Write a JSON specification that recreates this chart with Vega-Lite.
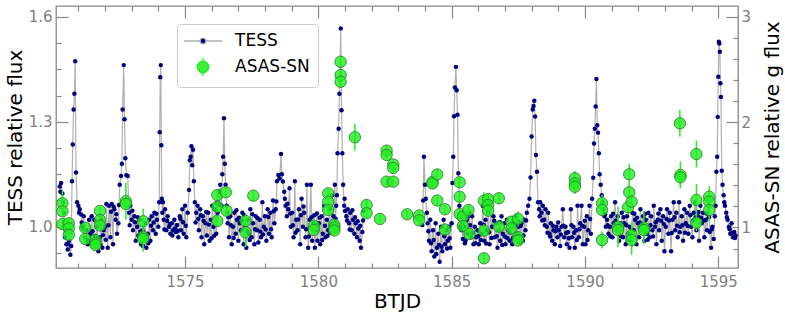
{
"$schema": "https://vega.github.io/schema/vega-lite/v6.json",
"width": 682, "height": 262,
"autosize": {"type": "none"},
"padding": {"left": 56, "top": 6, "right": 47, "bottom": 46},
"background": "white",
"config": {
 "font": "DejaVu Sans",
 "view": {"stroke": "#888888", "strokeWidth": 1.3},
 "axis": {"grid": false, "domain": false, "labelFont": "DejaVu Sans", "titleFont": "DejaVu Sans", "labelFontSize": 15, "titleFontSize": 20, "labelColor": "#808080", "tickColor": "#888888", "tickWidth": 1.2, "titleColor": "#000000", "titleFontWeight": "normal", "labelFlush": false, "labelOverlap": false}
},
"datasets": {
"tess": [
{"t":1570.30,"f":1.115,"g":1},{"t":1570.35,"f":1.125,"g":1},{"t":1570.40,"f":1.095,"g":1},{"t":1570.45,"f":1.04,"g":1},{"t":1570.50,"f":0.97,"g":1},{"t":1570.55,"f":0.95,"g":1},{"t":1570.60,"f":0.935,"g":1},{"t":1570.65,"f":0.96,"g":1},{"t":1570.70,"f":0.92,"g":1},{"t":1570.73,"f":0.945,"g":1},
{"t":1570.76,"f":1.13,"g":1},{"t":1570.79,"f":1.235,"g":1},{"t":1570.82,"f":1.335,"g":1},{"t":1570.85,"f":1.38,"g":1},{"t":1570.88,"f":1.473,"g":1},{"t":1570.91,"f":1.155,"g":1},{"t":1570.95,"f":1.07,"g":1},{"t":1571.00,"f":1.06,"g":1},{"t":1571.05,"f":1.05,"g":1},{"t":1571.10,"f":1.035,"g":1},
{"t":1571.15,"f":1.00,"g":1},{"t":1571.20,"f":1.03,"g":1},{"t":1571.25,"f":0.97,"g":1},{"t":1571.30,"f":0.99,"g":1},{"t":1571.35,"f":0.95,"g":1},{"t":1571.40,"f":1.02,"g":1},{"t":1571.45,"f":0.98,"g":1},{"t":1571.50,"f":1.03,"g":1},{"t":1571.55,"f":0.96,"g":1},{"t":1571.60,"f":1.02,"g":1},
{"t":1571.65,"f":0.95,"g":1},{"t":1571.70,"f":1.00,"g":1},{"t":1571.75,"f":0.93,"g":1},{"t":1571.80,"f":0.97,"g":1},{"t":1571.85,"f":1.02,"g":1},{"t":1571.90,"f":0.94,"g":1},{"t":1571.95,"f":0.99,"g":1},{"t":1572.00,"f":1.00,"g":1},{"t":1572.05,"f":1.065,"g":1},{"t":1572.10,"f":0.94,"g":1},
{"t":1572.15,"f":1.06,"g":1},{"t":1572.20,"f":0.97,"g":1},{"t":1572.25,"f":1.065,"g":1},{"t":1572.30,"f":0.95,"g":1},{"t":1572.35,"f":1.05,"g":1},{"t":1572.40,"f":1.02,"g":1},{"t":1572.45,"f":0.98,"g":1},{"t":1572.50,"f":1.01,"g":1},{"t":1572.55,"f":1.12,"g":1},{"t":1572.60,"f":1.145,"g":1},
{"t":1572.63,"f":1.18,"g":1},{"t":1572.66,"f":1.335,"g":1},{"t":1572.70,"f":1.462,"g":1},{"t":1572.73,"f":1.307,"g":1},{"t":1572.76,"f":1.196,"g":1},{"t":1572.80,"f":1.147,"g":1},{"t":1572.85,"f":1.145,"g":1},{"t":1572.90,"f":1.04,"g":1},{"t":1572.95,"f":1.06,"g":1},{"t":1573.00,"f":1.02,"g":1},
{"t":1573.05,"f":0.99,"g":1},{"t":1573.10,"f":1.03,"g":1},{"t":1573.15,"f":0.96,"g":1},{"t":1573.20,"f":1.00,"g":1},{"t":1573.25,"f":0.975,"g":1},{"t":1573.30,"f":1.02,"g":1},{"t":1573.35,"f":0.95,"g":1},{"t":1573.40,"f":0.99,"g":1},{"t":1573.45,"f":0.965,"g":1},{"t":1573.50,"f":1.01,"g":1},
{"t":1573.55,"f":0.94,"g":1},{"t":1573.60,"f":0.98,"g":1},{"t":1573.65,"f":1.02,"g":1},{"t":1573.70,"f":0.96,"g":1},{"t":1573.75,"f":1.03,"g":1},{"t":1573.80,"f":0.99,"g":1},{"t":1573.85,"f":1.04,"g":1},{"t":1573.90,"f":0.98,"g":1},{"t":1573.95,"f":1.02,"g":1},{"t":1574.00,"f":1.00,"g":1},
{"t":1574.03,"f":1.07,"g":1},{"t":1574.05,"f":1.27,"g":1},{"t":1574.07,"f":1.427,"g":1},{"t":1574.09,"f":1.462,"g":1},{"t":1574.11,"f":1.233,"g":1},{"t":1574.13,"f":1.08,"g":1},{"t":1574.17,"f":1.07,"g":1},{"t":1574.20,"f":1.02,"g":1},{"t":1574.25,"f":1.05,"g":1},{"t":1574.30,"f":0.99,"g":1},
{"t":1574.35,"f":1.03,"g":1},{"t":1574.40,"f":1.00,"g":1},{"t":1574.45,"f":0.98,"g":1},{"t":1574.50,"f":1.01,"g":1},{"t":1574.55,"f":0.99,"g":1},{"t":1574.60,"f":1.02,"g":1},{"t":1574.65,"f":0.985,"g":1},{"t":1574.70,"f":1.005,"g":1},{"t":1574.75,"f":0.97,"g":1},{"t":1574.80,"f":1.03,"g":1},
{"t":1574.85,"f":0.99,"g":1},{"t":1574.90,"f":1.05,"g":1},{"t":1574.95,"f":0.98,"g":1},{"t":1575.00,"f":1.06,"g":1},{"t":1575.05,"f":0.97,"g":1},{"t":1575.10,"f":1.04,"g":1},{"t":1575.15,"f":1.105,"g":1},{"t":1575.18,"f":1.19,"g":1},{"t":1575.21,"f":1.20,"g":1},{"t":1575.24,"f":1.23,"g":1},
{"t":1575.27,"f":1.176,"g":1},{"t":1575.30,"f":1.22,"g":1},{"t":1575.33,"f":1.13,"g":1},{"t":1575.37,"f":1.07,"g":1},{"t":1575.42,"f":1.04,"g":1},{"t":1575.47,"f":1.06,"g":1},{"t":1575.52,"f":0.99,"g":1},{"t":1575.57,"f":1.05,"g":1},{"t":1575.62,"f":0.97,"g":1},{"t":1575.67,"f":1.03,"g":1},
{"t":1575.72,"f":0.95,"g":1},{"t":1575.77,"f":1.01,"g":1},{"t":1575.82,"f":0.975,"g":1},{"t":1575.87,"f":1.04,"g":1},{"t":1575.92,"f":0.96,"g":1},{"t":1575.97,"f":1.02,"g":1},{"t":1576.02,"f":1.06,"g":1},{"t":1576.07,"f":1.00,"g":1},{"t":1576.12,"f":1.05,"g":1},{"t":1576.17,"f":0.98,"g":1},
{"t":1576.22,"f":1.04,"g":1},{"t":1576.27,"f":1.10,"g":1},{"t":1576.32,"f":1.12,"g":1},{"t":1576.37,"f":1.06,"g":1},{"t":1576.40,"f":1.15,"g":1},{"t":1576.43,"f":1.20,"g":1},{"t":1576.46,"f":1.31,"g":1},{"t":1576.49,"f":1.18,"g":1},{"t":1576.52,"f":1.12,"g":1},{"t":1576.56,"f":1.06,"g":1},
{"t":1576.60,"f":1.01,"g":1},{"t":1576.65,"f":0.97,"g":1},{"t":1576.70,"f":1.03,"g":1},{"t":1576.75,"f":0.95,"g":1},{"t":1576.80,"f":1.00,"g":1},{"t":1576.85,"f":1.04,"g":1},{"t":1576.90,"f":0.98,"g":1},{"t":1576.95,"f":1.02,"g":1},{"t":1577.00,"f":0.96,"g":1},{"t":1577.05,"f":1.01,"g":1},
{"t":1577.10,"f":0.99,"g":1},{"t":1577.15,"f":1.04,"g":1},{"t":1577.20,"f":0.95,"g":1},{"t":1577.25,"f":1.00,"g":1},{"t":1577.30,"f":0.94,"g":1},{"t":1577.35,"f":1.02,"g":1},{"t":1577.40,"f":0.98,"g":1},{"t":1577.45,"f":1.05,"g":1},{"t":1577.50,"f":0.97,"g":1},{"t":1577.55,"f":1.01,"g":1},
{"t":1577.60,"f":0.95,"g":1},{"t":1577.65,"f":1.03,"g":1},{"t":1577.70,"f":0.99,"g":1},{"t":1577.75,"f":0.955,"g":1},{"t":1577.80,"f":1.02,"g":1},{"t":1577.85,"f":0.97,"g":1},{"t":1577.90,"f":1.07,"g":1},{"t":1577.95,"f":1.00,"g":1},{"t":1578.00,"f":1.03,"g":1},{"t":1578.05,"f":0.96,"g":1},
{"t":1578.10,"f":1.05,"g":1},{"t":1578.15,"f":0.98,"g":1},{"t":1578.20,"f":1.04,"g":1},{"t":1578.25,"f":0.97,"g":1},{"t":1578.30,"f":1.075,"g":1},{"t":1578.35,"f":1.01,"g":1},{"t":1578.40,"f":1.05,"g":1},{"t":1578.45,"f":1.13,"g":1},{"t":1578.50,"f":1.148,"g":1},{"t":1578.55,"f":1.138,"g":1},
{"t":1578.60,"f":1.208,"g":1},{"t":1578.63,"f":1.15,"g":1},{"t":1578.67,"f":1.129,"g":1},{"t":1578.72,"f":1.10,"g":1},{"t":1578.77,"f":1.06,"g":1},{"t":1578.82,"f":1.03,"g":1},{"t":1578.87,"f":1.05,"g":1},{"t":1578.92,"f":1.11,"g":1},{"t":1578.97,"f":1.00,"g":1},{"t":1579.02,"f":1.04,"g":1},
{"t":1579.07,"f":0.97,"g":1},{"t":1579.12,"f":1.13,"g":1},{"t":1579.17,"f":1.02,"g":1},{"t":1579.22,"f":0.99,"g":1},{"t":1579.27,"f":1.05,"g":1},{"t":1579.32,"f":0.95,"g":1},{"t":1579.37,"f":1.08,"g":1},{"t":1579.42,"f":1.00,"g":1},{"t":1579.47,"f":1.04,"g":1},{"t":1579.52,"f":0.97,"g":1},
{"t":1579.57,"f":1.12,"g":1},{"t":1579.62,"f":0.94,"g":1},{"t":1579.67,"f":1.02,"g":1},{"t":1579.72,"f":1.12,"g":1},{"t":1579.77,"f":0.96,"g":1},{"t":1579.82,"f":1.01,"g":1},{"t":1579.87,"f":0.94,"g":1},{"t":1579.92,"f":0.99,"g":1},{"t":1579.97,"f":0.96,"g":1},{"t":1580.02,"f":1.01,"g":1},
{"t":1580.07,"f":0.95,"g":1},{"t":1580.12,"f":1.03,"g":1},{"t":1580.17,"f":0.98,"g":1},{"t":1580.22,"f":1.06,"g":1},{"t":1580.27,"f":0.97,"g":1},{"t":1580.32,"f":1.02,"g":1},{"t":1580.37,"f":0.99,"g":1},{"t":1580.42,"f":1.05,"g":1},{"t":1580.47,"f":1.00,"g":1},{"t":1580.52,"f":1.09,"g":1},
{"t":1580.57,"f":1.03,"g":1},{"t":1580.62,"f":1.12,"g":1},{"t":1580.67,"f":1.06,"g":1},{"t":1580.72,"f":1.21,"g":1},{"t":1580.76,"f":1.28,"g":1},{"t":1580.79,"f":1.38,"g":1},{"t":1580.84,"f":1.567,"g":1},{"t":1580.87,"f":1.333,"g":1},{"t":1580.90,"f":1.21,"g":1},{"t":1580.93,"f":1.12,"g":1},
{"t":1580.97,"f":1.06,"g":1},{"t":1581.00,"f":1.045,"g":1},{"t":1581.05,"f":1.03,"g":1},{"t":1581.10,"f":1.05,"g":1},{"t":1581.15,"f":1.01,"g":1},{"t":1581.20,"f":1.04,"g":1},{"t":1581.25,"f":0.99,"g":1},{"t":1581.30,"f":1.02,"g":1},{"t":1581.35,"f":0.98,"g":1},{"t":1581.40,"f":1.01,"g":1},
{"t":1581.45,"f":0.97,"g":1},{"t":1581.50,"f":0.995,"g":1},{"t":1581.55,"f":0.96,"g":1},{"t":1581.60,"f":0.94,"g":1},{"t":1581.65,"f":0.985,"g":1},{"t":1581.70,"f":1.045,"g":1},
{"t":1570.325,"f":1.10,"g":1},{"t":1570.425,"f":1.07,"g":1},{"t":1570.525,"f":0.99,"g":1},{"t":1570.625,"f":0.95,"g":1},
{"t":1571.025,"f":1.04,"g":1},{"t":1571.125,"f":1.012,"g":1},{"t":1571.225,"f":0.993,"g":1},{"t":1571.325,"f":0.962,"g":1},{"t":1571.425,"f":0.955,"g":1},{"t":1571.525,"f":0.987,"g":1},{"t":1571.625,"f":0.973,"g":1},{"t":1571.725,"f":0.955,"g":1},{"t":1571.825,"f":0.948,"g":1},{"t":1571.925,"f":0.976,"g":1},
{"t":1572.025,"f":0.963,"g":1},{"t":1572.125,"f":1.004,"g":1},{"t":1572.225,"f":1.043,"g":1},{"t":1572.325,"f":1.057,"g":1},{"t":1572.425,"f":1.036,"g":1},{"t":1572.525,"f":1.062,"g":1},
{"t":1572.925,"f":1.004,"g":1},{"t":1573.025,"f":1.046,"g":1},{"t":1573.125,"f":1.013,"g":1},{"t":1573.225,"f":1.027,"g":1},{"t":1573.325,"f":0.986,"g":1},{"t":1573.425,"f":0.945,"g":1},{"t":1573.525,"f":0.972,"g":1},{"t":1573.625,"f":0.953,"g":1},{"t":1573.725,"f":1.003,"g":1},{"t":1573.825,"f":1.012,"g":1},{"t":1573.925,"f":1.037,"g":1},
{"t":1574.15,"f":1.04,"g":1},{"t":1574.225,"f":0.992,"g":1},{"t":1574.325,"f":1.017,"g":1},{"t":1574.425,"f":1.008,"g":1},{"t":1574.525,"f":0.975,"g":1},{"t":1574.625,"f":0.995,"g":1},{"t":1574.725,"f":0.988,"g":1},{"t":1574.825,"f":1.022,"g":1},{"t":1574.925,"f":1.013,"g":1},{"t":1575.025,"f":1.003,"g":1},
{"t":1575.395,"f":1.012,"g":1},{"t":1575.495,"f":1.023,"g":1},{"t":1575.595,"f":1.033,"g":1},{"t":1575.695,"f":1.017,"g":1},{"t":1575.795,"f":1.042,"g":1},{"t":1575.895,"f":1.006,"g":1},{"t":1575.995,"f":0.967,"g":1},{"t":1576.095,"f":0.974,"g":1},{"t":1576.195,"f":1.068,"g":1},{"t":1576.295,"f":1.063,"g":1},
{"t":1576.58,"f":1.04,"g":1},{"t":1576.625,"f":1.027,"g":1},{"t":1576.725,"f":1.004,"g":1},{"t":1576.825,"f":0.968,"g":1},{"t":1576.925,"f":1.047,"g":1},{"t":1577.025,"f":1.026,"g":1},{"t":1577.125,"f":1.018,"g":1},{"t":1577.225,"f":1.033,"g":1},{"t":1577.325,"f":0.987,"g":1},{"t":1577.425,"f":0.962,"g":1},
{"t":1577.525,"f":1.036,"g":1},{"t":1577.625,"f":0.993,"g":1},{"t":1577.725,"f":1.024,"g":1},{"t":1577.825,"f":0.986,"g":1},{"t":1577.925,"f":0.978,"g":1},{"t":1578.025,"f":0.992,"g":1},{"t":1578.125,"f":1.028,"g":1},{"t":1578.225,"f":0.993,"g":1},{"t":1578.325,"f":1.044,"g":1},{"t":1578.425,"f":1.072,"g":1},
{"t":1578.745,"f":1.08,"g":1},{"t":1578.845,"f":1.066,"g":1},{"t":1578.945,"f":1.038,"g":1},{"t":1579.045,"f":1.004,"g":1},{"t":1579.145,"f":0.983,"g":1},{"t":1579.245,"f":1.021,"g":1},{"t":1579.345,"f":1.033,"g":1},{"t":1579.445,"f":1.058,"g":1},{"t":1579.545,"f":0.993,"g":1},{"t":1579.645,"f":0.972,"g":1},
{"t":1579.745,"f":1.027,"g":1},{"t":1579.845,"f":1.033,"g":1},{"t":1579.945,"f":1.038,"g":1},{"t":1580.045,"f":1.026,"g":1},{"t":1580.145,"f":0.962,"g":1},{"t":1580.245,"f":1.003,"g":1},{"t":1580.345,"f":0.974,"g":1},{"t":1580.445,"f":0.983,"g":1},{"t":1580.545,"f":1.004,"g":1},{"t":1580.645,"f":1.023,"g":1},{"t":1580.695,"f":1.09,"g":1},
{"t":1580.985,"f":1.08,"g":1},{"t":1581.075,"f":1.018,"g":1},{"t":1581.175,"f":0.992,"g":1},{"t":1581.275,"f":1.047,"g":1},{"t":1581.375,"f":1.027,"g":1},{"t":1581.475,"f":1.016,"g":1},{"t":1581.575,"f":1.003,"g":1},{"t":1581.675,"f":1.018,"g":1},
{"t":1583.90,"f":1.005,"g":2},{"t":1583.93,"f":1.075,"g":2},{"t":1583.96,"f":1.20,"g":2},{"t":1584.00,"f":1.12,"g":2},{"t":1584.03,"f":1.08,"g":2},{"t":1584.07,"f":1.04,"g":2},{"t":1584.10,"f":1.01,"g":2},{"t":1584.15,"f":0.96,"g":2},{"t":1584.20,"f":1.02,"g":2},{"t":1584.25,"f":0.93,"g":2},
{"t":1584.30,"f":0.99,"g":2},{"t":1584.35,"f":0.915,"g":2},{"t":1584.40,"f":1.01,"g":2},{"t":1584.45,"f":0.94,"g":2},{"t":1584.50,"f":0.98,"g":2},{"t":1584.55,"f":0.90,"g":2},{"t":1584.60,"f":1.00,"g":2},{"t":1584.65,"f":0.93,"g":2},{"t":1584.70,"f":1.02,"g":2},{"t":1584.75,"f":0.95,"g":2},
{"t":1584.80,"f":0.99,"g":2},{"t":1584.85,"f":0.96,"g":2},{"t":1584.90,"f":1.00,"g":2},{"t":1584.95,"f":0.94,"g":2},{"t":1585.00,"f":1.01,"g":2},{"t":1585.03,"f":1.125,"g":2},{"t":1585.06,"f":1.20,"g":2},{"t":1585.09,"f":1.316,"g":2},{"t":1585.12,"f":1.398,"g":2},{"t":1585.16,"f":1.457,"g":2},
{"t":1585.19,"f":1.39,"g":2},{"t":1585.22,"f":1.32,"g":2},{"t":1585.25,"f":1.153,"g":2},{"t":1585.29,"f":1.06,"g":2},{"t":1585.33,"f":1.03,"g":2},{"t":1585.37,"f":0.99,"g":2},{"t":1585.42,"f":0.965,"g":2},{"t":1585.47,"f":1.00,"g":2},{"t":1585.52,"f":0.96,"g":2},{"t":1585.57,"f":1.02,"g":2},
{"t":1585.62,"f":0.98,"g":2},{"t":1585.67,"f":1.04,"g":2},{"t":1585.72,"f":0.97,"g":2},{"t":1585.77,"f":1.03,"g":2},{"t":1585.82,"f":0.95,"g":2},{"t":1585.87,"f":1.00,"g":2},{"t":1585.92,"f":0.97,"g":2},{"t":1585.97,"f":0.99,"g":2},{"t":1586.02,"f":0.95,"g":2},{"t":1586.07,"f":1.01,"g":2},
{"t":1586.12,"f":0.98,"g":2},{"t":1586.17,"f":1.06,"g":2},{"t":1586.22,"f":0.96,"g":2},{"t":1586.27,"f":1.02,"g":2},{"t":1586.32,"f":0.99,"g":2},{"t":1586.37,"f":1.04,"g":2},{"t":1586.42,"f":0.95,"g":2},{"t":1586.47,"f":1.07,"g":2},{"t":1586.52,"f":1.00,"g":2},{"t":1586.57,"f":1.03,"g":2},
{"t":1586.62,"f":0.97,"g":2},{"t":1586.67,"f":1.01,"g":2},{"t":1586.72,"f":0.94,"g":2},{"t":1586.77,"f":0.99,"g":2},{"t":1586.82,"f":0.96,"g":2},{"t":1586.87,"f":1.03,"g":2},{"t":1586.92,"f":0.98,"g":2},{"t":1586.97,"f":1.01,"g":2},{"t":1587.02,"f":0.95,"g":2},{"t":1587.07,"f":1.02,"g":2},
{"t":1587.12,"f":0.99,"g":2},{"t":1587.17,"f":0.96,"g":2},{"t":1587.22,"f":1.00,"g":2},{"t":1587.27,"f":0.95,"g":2},{"t":1587.32,"f":1.01,"g":2},{"t":1587.37,"f":0.97,"g":2},{"t":1587.42,"f":1.03,"g":2},{"t":1587.47,"f":0.98,"g":2},{"t":1587.52,"f":1.00,"g":2},{"t":1587.57,"f":0.955,"g":2},
{"t":1587.62,"f":1.01,"g":2},{"t":1587.67,"f":0.96,"g":2},{"t":1587.72,"f":1.02,"g":2},{"t":1587.77,"f":0.99,"g":2},{"t":1587.82,"f":1.04,"g":2},{"t":1587.87,"f":1.06,"g":2},{"t":1587.92,"f":1.08,"g":2},{"t":1587.96,"f":1.141,"g":2},{"t":1588.00,"f":1.258,"g":2},{"t":1588.04,"f":1.335,"g":2},
{"t":1588.07,"f":1.345,"g":2},{"t":1588.10,"f":1.36,"g":2},{"t":1588.13,"f":1.315,"g":2},{"t":1588.16,"f":1.205,"g":2},{"t":1588.20,"f":1.157,"g":2},{"t":1588.24,"f":1.07,"g":2},{"t":1588.28,"f":1.05,"g":2},{"t":1588.32,"f":1.07,"g":2},{"t":1588.37,"f":1.04,"g":2},{"t":1588.42,"f":1.06,"g":2},
{"t":1588.47,"f":1.02,"g":2},{"t":1588.52,"f":1.05,"g":2},{"t":1588.57,"f":1.00,"g":2},{"t":1588.62,"f":1.04,"g":2},{"t":1588.67,"f":0.98,"g":2},{"t":1588.72,"f":1.01,"g":2},{"t":1588.77,"f":0.96,"g":2},{"t":1588.82,"f":0.99,"g":2},{"t":1588.87,"f":0.95,"g":2},{"t":1588.92,"f":1.00,"g":2},
{"t":1588.97,"f":0.97,"g":2},{"t":1589.02,"f":0.99,"g":2},{"t":1589.07,"f":0.945,"g":2},{"t":1589.12,"f":1.00,"g":2},{"t":1589.17,"f":1.05,"g":2},{"t":1589.22,"f":0.97,"g":2},{"t":1589.27,"f":1.00,"g":2},{"t":1589.32,"f":0.95,"g":2},{"t":1589.37,"f":0.985,"g":2},{"t":1589.42,"f":0.94,"g":2},
{"t":1589.47,"f":1.05,"g":2},{"t":1589.52,"f":0.97,"g":2},{"t":1589.57,"f":1.00,"g":2},{"t":1589.62,"f":0.94,"g":2},{"t":1589.67,"f":0.99,"g":2},{"t":1589.72,"f":1.06,"g":2},{"t":1589.77,"f":0.97,"g":2},{"t":1589.82,"f":1.01,"g":2},{"t":1589.87,"f":1.06,"g":2},{"t":1589.92,"f":0.95,"g":2},
{"t":1589.97,"f":1.00,"g":2},{"t":1590.02,"f":0.95,"g":2},{"t":1590.07,"f":1.03,"g":2},{"t":1590.12,"f":0.99,"g":2},{"t":1590.17,"f":1.06,"g":2},{"t":1590.22,"f":0.98,"g":2},{"t":1590.27,"f":1.08,"g":2},{"t":1590.31,"f":1.14,"g":2},{"t":1590.34,"f":1.238,"g":2},{"t":1590.37,"f":1.28,"g":2},
{"t":1590.40,"f":1.344,"g":2},{"t":1590.43,"f":1.422,"g":2},{"t":1590.46,"f":1.29,"g":2},{"t":1590.49,"f":1.269,"g":2},{"t":1590.52,"f":1.21,"g":2},{"t":1590.55,"f":1.15,"g":2},{"t":1590.59,"f":1.12,"g":2},{"t":1590.63,"f":1.09,"g":2},{"t":1590.68,"f":1.05,"g":2},{"t":1590.73,"f":1.03,"g":2},
{"t":1590.78,"f":1.00,"g":2},{"t":1590.83,"f":1.02,"g":2},{"t":1590.88,"f":0.98,"g":2},{"t":1590.93,"f":1.00,"g":2},{"t":1590.98,"f":1.03,"g":2},{"t":1591.03,"f":0.97,"g":2},{"t":1591.08,"f":1.01,"g":2},{"t":1591.13,"f":1.07,"g":2},{"t":1591.18,"f":0.99,"g":2},{"t":1591.23,"f":1.03,"g":2},
{"t":1591.28,"f":0.96,"g":2},{"t":1591.33,"f":1.01,"g":2},{"t":1591.38,"f":1.04,"g":2},{"t":1591.43,"f":0.97,"g":2},{"t":1591.48,"f":1.01,"g":2},{"t":1591.53,"f":0.95,"g":2},{"t":1591.58,"f":1.03,"g":2},{"t":1591.63,"f":0.98,"g":2},{"t":1591.68,"f":1.00,"g":2},{"t":1591.73,"f":0.96,"g":2},
{"t":1591.78,"f":1.04,"g":2},{"t":1591.83,"f":0.99,"g":2},{"t":1591.88,"f":1.02,"g":2},{"t":1591.93,"f":0.95,"g":2},{"t":1591.98,"f":1.01,"g":2},{"t":1592.03,"f":0.97,"g":2},{"t":1592.08,"f":1.05,"g":2},{"t":1592.13,"f":0.99,"g":2},{"t":1592.18,"f":1.03,"g":2},{"t":1592.23,"f":0.96,"g":2},
{"t":1592.28,"f":1.02,"g":2},{"t":1592.33,"f":0.98,"g":2},{"t":1592.38,"f":1.04,"g":2},{"t":1592.43,"f":0.97,"g":2},{"t":1592.48,"f":1.03,"g":2},{"t":1592.53,"f":0.99,"g":2},{"t":1592.58,"f":1.06,"g":2},{"t":1592.63,"f":1.00,"g":2},{"t":1592.68,"f":0.95,"g":2},{"t":1592.73,"f":1.02,"g":2},
{"t":1592.78,"f":0.99,"g":2},{"t":1592.83,"f":1.05,"g":2},{"t":1592.88,"f":0.96,"g":2},{"t":1592.93,"f":1.03,"g":2},{"t":1592.98,"f":0.93,"g":2},{"t":1593.03,"f":1.00,"g":2},{"t":1593.08,"f":1.05,"g":2},{"t":1593.13,"f":0.98,"g":2},{"t":1593.18,"f":1.04,"g":2},{"t":1593.23,"f":0.93,"g":2},
{"t":1593.28,"f":1.02,"g":2},{"t":1593.33,"f":1.07,"g":2},{"t":1593.38,"f":0.99,"g":2},{"t":1593.43,"f":1.04,"g":2},{"t":1593.48,"f":0.97,"g":2},{"t":1593.53,"f":1.07,"g":2},{"t":1593.58,"f":1.00,"g":2},{"t":1593.63,"f":1.03,"g":2},{"t":1593.68,"f":0.96,"g":2},{"t":1593.73,"f":1.05,"g":2},
{"t":1593.78,"f":1.01,"g":2},{"t":1593.83,"f":1.04,"g":2},{"t":1593.88,"f":0.98,"g":2},{"t":1593.93,"f":1.06,"g":2},{"t":1593.98,"f":1.00,"g":2},{"t":1594.03,"f":0.97,"g":2},{"t":1594.08,"f":1.04,"g":2},{"t":1594.13,"f":1.07,"g":2},{"t":1594.18,"f":0.99,"g":2},{"t":1594.23,"f":1.03,"g":2},
{"t":1594.28,"f":0.96,"g":2},{"t":1594.33,"f":1.06,"g":2},{"t":1594.38,"f":1.01,"g":2},{"t":1594.43,"f":1.04,"g":2},{"t":1594.48,"f":0.97,"g":2},{"t":1594.53,"f":1.02,"g":2},{"t":1594.58,"f":0.99,"g":2},{"t":1594.63,"f":1.075,"g":2},{"t":1594.68,"f":0.985,"g":2},{"t":1594.73,"f":0.94,"g":2},
{"t":1594.78,"f":1.00,"g":2},{"t":1594.83,"f":0.965,"g":2},{"t":1594.87,"f":1.03,"g":2},{"t":1594.90,"f":1.06,"g":2},{"t":1594.93,"f":1.157,"g":2},{"t":1594.96,"f":1.20,"g":2},{"t":1594.98,"f":1.314,"g":2},{"t":1595.00,"f":1.429,"g":2},{"t":1595.02,"f":1.529,"g":2},{"t":1595.04,"f":1.524,"g":2},
{"t":1595.06,"f":1.50,"g":2},{"t":1595.08,"f":1.41,"g":2},{"t":1595.10,"f":1.371,"g":2},{"t":1595.13,"f":1.16,"g":2},{"t":1595.16,"f":1.12,"g":2},{"t":1595.20,"f":1.09,"g":2},{"t":1595.25,"f":1.06,"g":2},{"t":1595.30,"f":1.04,"g":2},{"t":1595.35,"f":1.02,"g":2},{"t":1595.40,"f":1.00,"g":2},
{"t":1595.45,"f":0.98,"g":2},{"t":1595.50,"f":1.01,"g":2},{"t":1595.55,"f":0.97,"g":2},{"t":1595.60,"f":0.985,"g":2},{"t":1595.65,"f":0.975,"g":2},
{"t":1584.125,"f":0.987,"g":2},{"t":1584.225,"f":0.953,"g":2},{"t":1584.325,"f":0.962,"g":2},{"t":1584.425,"f":0.922,"g":2},{"t":1584.525,"f":0.948,"g":2},{"t":1584.625,"f":0.943,"g":2},{"t":1584.725,"f":0.973,"g":2},{"t":1584.825,"f":0.938,"g":2},{"t":1584.925,"f":0.967,"g":2},
{"t":1585.31,"f":1.00,"g":2},{"t":1585.395,"f":1.012,"g":2},{"t":1585.495,"f":0.953,"g":2},{"t":1585.595,"f":1.027,"g":2},{"t":1585.695,"f":1.004,"g":2},{"t":1585.795,"f":0.982,"g":2},{"t":1585.895,"f":0.953,"g":2},{"t":1585.995,"f":0.973,"g":2},{"t":1586.095,"f":0.962,"g":2},{"t":1586.195,"f":1.006,"g":2},
{"t":1586.295,"f":0.952,"g":2},{"t":1586.395,"f":0.984,"g":2},{"t":1586.495,"f":0.968,"g":2},{"t":1586.595,"f":1.017,"g":2},{"t":1586.695,"f":0.973,"g":2},{"t":1586.795,"f":1.013,"g":2},{"t":1586.895,"f":0.948,"g":2},{"t":1586.995,"f":0.972,"g":2},{"t":1587.095,"f":0.967,"g":2},{"t":1587.195,"f":0.984,"g":2},
{"t":1587.295,"f":0.968,"g":2},{"t":1587.395,"f":1.004,"g":2},{"t":1587.495,"f":1.016,"g":2},{"t":1587.595,"f":1.003,"g":2},{"t":1587.695,"f":0.975,"g":2},{"t":1587.795,"f":1.018,"g":2},
{"t":1588.30,"f":1.03,"g":2},{"t":1588.395,"f":1.018,"g":2},{"t":1588.495,"f":1.004,"g":2},{"t":1588.595,"f":0.983,"g":2},{"t":1588.695,"f":0.972,"g":2},{"t":1588.795,"f":1.003,"g":2},{"t":1588.895,"f":0.987,"g":2},{"t":1588.995,"f":1.012,"g":2},{"t":1589.095,"f":0.978,"g":2},{"t":1589.195,"f":1.003,"g":2},
{"t":1589.295,"f":0.982,"g":2},{"t":1589.395,"f":0.967,"g":2},{"t":1589.495,"f":1.004,"g":2},{"t":1589.595,"f":0.983,"g":2},{"t":1589.695,"f":0.962,"g":2},{"t":1589.795,"f":0.993,"g":2},{"t":1589.895,"f":1.003,"g":2},{"t":1589.995,"f":1.017,"g":2},{"t":1590.095,"f":0.962,"g":2},{"t":1590.195,"f":1.022,"g":2},
{"t":1590.655,"f":1.07,"g":2},{"t":1590.755,"f":1.036,"g":2},{"t":1590.855,"f":1.004,"g":2},{"t":1590.955,"f":0.972,"g":2},{"t":1591.055,"f":1.037,"g":2},{"t":1591.155,"f":1.018,"g":2},{"t":1591.255,"f":1.003,"g":2},{"t":1591.355,"f":0.973,"g":2},{"t":1591.455,"f":1.027,"g":2},{"t":1591.555,"f":1.004,"g":2},
{"t":1591.655,"f":0.963,"g":2},{"t":1591.755,"f":0.992,"g":2},{"t":1591.855,"f":1.037,"g":2},{"t":1591.955,"f":1.026,"g":2},{"t":1592.055,"f":1.012,"g":2},{"t":1592.155,"f":1.008,"g":2},{"t":1592.255,"f":1.037,"g":2},{"t":1592.355,"f":0.963,"g":2},{"t":1592.455,"f":1.004,"g":2},{"t":1592.555,"f":0.972,"g":2},
{"t":1592.655,"f":1.013,"g":2},{"t":1592.755,"f":1.038,"g":2},{"t":1592.855,"f":1.017,"g":2},{"t":1592.955,"f":1.008,"g":2},{"t":1593.055,"f":1.022,"g":2},{"t":1593.155,"f":1.018,"g":2},{"t":1593.255,"f":0.982,"g":2},{"t":1593.355,"f":1.027,"g":2},{"t":1593.455,"f":1.003,"g":2},{"t":1593.555,"f":0.984,"g":2},
{"t":1593.655,"f":1.004,"g":2},{"t":1593.755,"f":0.983,"g":2},{"t":1593.855,"f":1.002,"g":2},{"t":1593.955,"f":1.033,"g":2},{"t":1594.055,"f":1.018,"g":2},{"t":1594.155,"f":1.027,"g":2},{"t":1594.255,"f":1.042,"g":2},{"t":1594.355,"f":1.026,"g":2},{"t":1594.455,"f":1.017,"g":2},{"t":1594.555,"f":1.038,"g":2},
{"t":1594.655,"f":1.027,"g":2},{"t":1594.755,"f":0.993,"g":2},
{"t":1595.225,"f":1.07,"g":2},{"t":1595.325,"f":1.027,"g":2},{"t":1595.425,"f":0.993,"g":2},{"t":1595.525,"f":0.982,"g":2},{"t":1595.625,"f":0.968,"g":2}
],
"asas": [
{"t":1570.40,"a":1.230,"lo":1.110,"hi":1.350},{"t":1570.40,"a":1.154,"lo":1.104,"hi":1.204},{"t":1570.40,"a":1.033,"lo":0.983,"hi":1.083},
{"t":1570.64,"a":1.040,"lo":0.990,"hi":1.090},{"t":1570.64,"a":0.992,"lo":0.942,"hi":1.042},{"t":1570.64,"a":0.929,"lo":0.879,"hi":0.979},
{"t":1571.255,"a":0.997,"lo":0.957,"hi":1.037},{"t":1571.255,"a":0.891,"lo":0.851,"hi":0.931},
{"t":1571.64,"a":0.881,"lo":0.841,"hi":0.921},{"t":1571.64,"a":0.853,"lo":0.813,"hi":0.893},{"t":1571.64,"a":0.834,"lo":0.794,"hi":0.874},
{"t":1571.81,"a":1.157,"lo":1.117,"hi":1.197},{"t":1571.81,"a":1.071,"lo":1.031,"hi":1.111},{"t":1571.81,"a":1.019,"lo":0.979,"hi":1.059},
{"t":1572.78,"a":1.249,"lo":1.074,"hi":1.424},{"t":1572.78,"a":1.223,"lo":1.163,"hi":1.283},
{"t":1573.43,"a":1.059,"lo":0.939,"hi":1.179},{"t":1573.43,"a":0.913,"lo":0.773,"hi":1.053},{"t":1573.43,"a":0.891,"lo":0.811,"hi":0.971},
{"t":1576.21,"a":1.308,"lo":1.258,"hi":1.358},{"t":1576.21,"a":1.197,"lo":1.147,"hi":1.247},{"t":1576.21,"a":1.062,"lo":1.012,"hi":1.112},
{"t":1576.53,"a":1.334,"lo":1.284,"hi":1.384},{"t":1576.56,"a":1.159,"lo":1.109,"hi":1.209},
{"t":1577.27,"a":1.062,"lo":0.992,"hi":1.132},{"t":1577.27,"a":0.954,"lo":0.814,"hi":1.094},
{"t":1577.56,"a":1.302,"lo":1.252,"hi":1.352},
{"t":1579.83,"a":1.017,"lo":0.977,"hi":1.057},{"t":1579.83,"a":0.976,"lo":0.936,"hi":1.016},
{"t":1580.37,"a":1.324,"lo":1.274,"hi":1.374},{"t":1580.37,"a":1.245,"lo":1.195,"hi":1.295},{"t":1580.37,"a":1.166,"lo":1.116,"hi":1.216},
{"t":1580.60,"a":1.027,"lo":0.987,"hi":1.067},{"t":1580.60,"a":1.000,"lo":0.960,"hi":1.040},{"t":1580.60,"a":0.972,"lo":0.932,"hi":1.012},
{"t":1580.835,"a":2.573,"lo":2.523,"hi":2.623},{"t":1580.835,"a":2.447,"lo":2.397,"hi":2.497},{"t":1580.835,"a":2.383,"lo":2.333,"hi":2.433},
{"t":1581.37,"a":1.856,"lo":1.729,"hi":1.983},
{"t":1581.81,"a":1.213,"lo":1.163,"hi":1.263},{"t":1581.81,"a":1.135,"lo":1.085,"hi":1.185},
{"t":1582.31,"a":1.081,"lo":1.041,"hi":1.121},
{"t":1582.56,"a":1.729,"lo":1.679,"hi":1.779},{"t":1582.56,"a":1.688,"lo":1.638,"hi":1.738},{"t":1582.56,"a":1.435,"lo":1.385,"hi":1.485},
{"t":1582.81,"a":1.598,"lo":1.548,"hi":1.648},{"t":1582.81,"a":1.565,"lo":1.515,"hi":1.615},{"t":1582.81,"a":1.435,"lo":1.385,"hi":1.485},
{"t":1583.33,"a":1.125,"lo":1.085,"hi":1.165},
{"t":1583.78,"a":1.114,"lo":1.074,"hi":1.154},{"t":1583.78,"a":1.068,"lo":1.028,"hi":1.108},
{"t":1584.28,"a":1.432,"lo":1.382,"hi":1.482},{"t":1584.28,"a":1.417,"lo":1.367,"hi":1.467},
{"t":1584.46,"a":1.503,"lo":1.453,"hi":1.553},{"t":1584.46,"a":1.256,"lo":1.206,"hi":1.306},
{"t":1584.75,"a":1.173,"lo":1.133,"hi":1.213},{"t":1584.75,"a":0.981,"lo":0.941,"hi":1.021},
{"t":1585.30,"a":1.429,"lo":1.379,"hi":1.479},{"t":1585.30,"a":1.292,"lo":1.242,"hi":1.342},{"t":1585.30,"a":1.128,"lo":1.088,"hi":1.168},
{"t":1585.42,"a":1.102,"lo":1.062,"hi":1.142},{"t":1585.42,"a":1.014,"lo":0.974,"hi":1.054},
{"t":1585.63,"a":1.166,"lo":1.126,"hi":1.206},{"t":1585.67,"a":0.938,"lo":0.898,"hi":0.978},
{"t":1586.21,"a":1.254,"lo":1.174,"hi":1.334},{"t":1586.21,"a":0.970,"lo":0.910,"hi":1.030},{"t":1586.21,"a":0.708,"lo":0.658,"hi":0.758},
{"t":1586.37,"a":1.270,"lo":1.220,"hi":1.320},{"t":1586.37,"a":1.213,"lo":1.163,"hi":1.263},{"t":1586.37,"a":1.159,"lo":1.109,"hi":1.209},
{"t":1586.77,"a":1.277,"lo":1.227,"hi":1.327},{"t":1586.77,"a":1.008,"lo":0.958,"hi":1.058},
{"t":1587.24,"a":1.055,"lo":1.005,"hi":1.105},{"t":1587.24,"a":0.992,"lo":0.942,"hi":1.042},
{"t":1587.49,"a":1.083,"lo":1.013,"hi":1.153},{"t":1587.49,"a":0.907,"lo":0.857,"hi":0.957},{"t":1587.49,"a":0.877,"lo":0.827,"hi":0.927},
{"t":1589.62,"a":1.467,"lo":1.397,"hi":1.537},{"t":1589.62,"a":1.419,"lo":1.369,"hi":1.469},{"t":1589.62,"a":1.387,"lo":1.317,"hi":1.457},
{"t":1590.64,"a":1.230,"lo":1.150,"hi":1.310},{"t":1590.64,"a":1.166,"lo":1.106,"hi":1.226},{"t":1590.64,"a":0.881,"lo":0.801,"hi":0.961},
{"t":1591.24,"a":1.008,"lo":0.818,"hi":1.198},{"t":1591.24,"a":0.976,"lo":0.856,"hi":1.096},
{"t":1591.66,"a":1.505,"lo":1.405,"hi":1.605},{"t":1591.66,"a":1.334,"lo":1.254,"hi":1.414},{"t":1591.62,"a":1.192,"lo":1.122,"hi":1.262},
{"t":1591.75,"a":1.245,"lo":1.175,"hi":1.315},{"t":1591.75,"a":0.929,"lo":0.809,"hi":1.049},{"t":1591.75,"a":0.881,"lo":0.741,"hi":1.021},
{"t":1592.21,"a":0.998,"lo":0.838,"hi":1.158},{"t":1592.21,"a":0.976,"lo":0.896,"hi":1.056},
{"t":1593.56,"a":1.989,"lo":1.862,"hi":2.116},{"t":1593.58,"a":1.498,"lo":1.371,"hi":1.625},{"t":1593.58,"a":1.476,"lo":1.396,"hi":1.556},
{"t":1594.18,"a":1.697,"lo":1.570,"hi":1.824},{"t":1594.18,"a":1.261,"lo":1.111,"hi":1.411},{"t":1594.18,"a":1.046,"lo":0.966,"hi":1.126},
{"t":1594.66,"a":1.292,"lo":1.192,"hi":1.392},{"t":1594.66,"a":1.245,"lo":1.185,"hi":1.305},{"t":1594.66,"a":1.166,"lo":1.056,"hi":1.276}
]
},
"layer": [
 {
  "data": {"name": "tess"},
  "mark": {"type": "line", "color": "#b0b0b0", "strokeWidth": 1.2},
  "encoding": {
   "x": {"field": "t", "type": "quantitative", "scale": {"domain": [1570.16, 1595.74], "nice": false, "zero": false},
         "axis": {"orient": "bottom", "values": [1575, 1580, 1585, 1590, 1595], "format": "d", "tickSize": -12, "labelPadding": 18, "title": "BTJD", "titlePadding": 2}},
   "y": {"field": "f", "type": "quantitative", "scale": {"domain": [0.882, 1.631], "nice": false, "zero": false},
         "axis": {"orient": "left", "values": [1.0, 1.3, 1.6], "format": ".1f", "tickSize": -12, "labelPadding": 16, "title": "TESS relative flux", "titlePadding": 3}},
   "detail": {"field": "g", "type": "nominal"}
  }
 },
 {
  "data": {"name": "tess"},
  "mark": {"type": "circle", "size": 20, "opacity": 1, "color": "#000080"},
  "encoding": {
   "x": {"field": "t", "type": "quantitative", "scale": {"domain": [1570.16, 1595.74], "nice": false, "zero": false},
         "axis": {"orient": "bottom", "values": [1571,1572,1573,1574,1576,1577,1578,1579,1581,1582,1583,1584,1586,1587,1588,1589,1591,1592,1593,1594], "labels": false, "tickSize": -5, "title": null}},
   "y": {"field": "f", "type": "quantitative", "scale": {"domain": [0.882, 1.631], "nice": false, "zero": false},
         "axis": {"orient": "left", "values": [0.925, 1.075, 1.15, 1.225, 1.375, 1.45, 1.525], "labels": false, "tickSize": -5, "title": null}}
  }
 },
 {
  "data": {"name": "asas"},
  "mark": {"type": "rule", "color": "#22ee22", "strokeWidth": 1.5},
  "encoding": {
   "x": {"field": "t", "type": "quantitative", "scale": {"domain": [1570.16, 1595.74], "nice": false, "zero": false},
         "axis": {"orient": "top", "values": [1575, 1580, 1585, 1590, 1595], "labels": false, "tickSize": -12, "title": null}},
   "y": {"field": "lo", "type": "quantitative", "scale": {"domain": [0.6157, 3.1015], "nice": false, "zero": false},
         "axis": {"orient": "right", "values": [0.8, 1.2, 1.4, 1.6, 1.8, 2.2, 2.4, 2.6, 2.8], "labels": false, "tickSize": -5, "title": null}},
   "y2": {"field": "hi"}
  }
 },
 {
  "data": {"name": "asas"},
  "mark": {"type": "circle", "size": 130, "fill": "#22ee22", "fillOpacity": 0.82, "stroke": "#2b7a2b", "strokeWidth": 0.8},
  "encoding": {
   "x": {"field": "t", "type": "quantitative", "scale": {"domain": [1570.16, 1595.74], "nice": false, "zero": false},
         "axis": {"orient": "top", "values": [1571,1572,1573,1574,1576,1577,1578,1579,1581,1582,1583,1584,1586,1587,1588,1589,1591,1592,1593,1594], "labels": false, "tickSize": -5, "title": null}},
   "y": {"field": "a", "type": "quantitative", "scale": {"domain": [0.6157, 3.1015], "nice": false, "zero": false},
         "axis": {"orient": "right", "values": [1, 2, 3], "format": "d", "tickSize": -12, "labelPadding": 15, "title": "ASAS-SN relative g flux", "titleAngle": 270, "titleBaseline": "top", "titlePadding": 12}}
  }
 },
 {
  "data": {"values": []},
  "mark": {"type": "point", "filled": true, "opacity": 1},
  "encoding": {
   "color": {"datum": "TESS", "scale": {"domain": ["TESS", "ASAS-SN"], "range": ["#000080", "#3bef3b"]},
     "legend": {"title": null, "orient": "none", "legendX": 121, "legendY": 18, "padding": 8, "fillColor": "white", "strokeColor": "#cccccc", "cornerRadius": 4, "symbolSize": 256, "symbolOffset": 9, "labelOffset": 23, "labelFontSize": 17, "labelFont": "DejaVu Sans", "labelColor": "#000000", "rowPadding": 6, "symbolStrokeWidth": 1.3, "symbolOpacity": 1}},
   "stroke": {"datum": "TESS", "scale": {"domain": ["TESS", "ASAS-SN"], "range": ["#b0b0b0", "#22ee22"]},
     "legend": {"title": null, "orient": "none", "legendX": 121, "legendY": 18, "padding": 8, "fillColor": "white", "strokeColor": "#cccccc", "cornerRadius": 4, "symbolSize": 256, "symbolOffset": 9, "labelOffset": 23, "labelFontSize": 17, "labelFont": "DejaVu Sans", "labelColor": "#000000", "rowPadding": 6, "symbolStrokeWidth": 1.3, "symbolOpacity": 1}},
   "shape": {"datum": "TESS", "scale": {"domain": ["TESS", "ASAS-SN"], "range": ["M-2.4,0H-0.36M0.36,0H2.4M0.36,0A0.36,0.36,0,1,1,-0.36,0A0.36,0.36,0,1,1,0.36,0Z", "M0,-1.15V-0.72M0,0.72V1.15M0.72,0A0.72,0.72,0,1,1,-0.72,0A0.72,0.72,0,1,1,0.72,0Z"]},
     "legend": {"title": null, "orient": "none", "legendX": 121, "legendY": 18, "padding": 8, "fillColor": "white", "strokeColor": "#cccccc", "cornerRadius": 4, "symbolSize": 256, "symbolOffset": 9, "labelOffset": 23, "labelFontSize": 17, "labelFont": "DejaVu Sans", "labelColor": "#000000", "rowPadding": 6, "symbolStrokeWidth": 1.3, "symbolOpacity": 1}}
  }
 }
],
"resolve": {"scale": {"y": "independent"}, "axis": {"x": "independent", "y": "independent"}}
}
